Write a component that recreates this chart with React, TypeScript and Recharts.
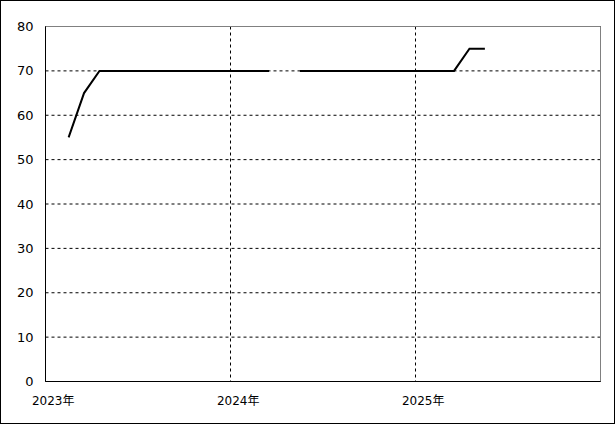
import React from 'react';
import { LineChart, Line, XAxis, YAxis, CartesianGrid, ReferenceLine } from 'recharts';

const months = [
  '2023-02', '2023-03', '2023-04', '2023-05', '2023-06', '2023-07', '2023-08', '2023-09',
  '2023-10', '2023-11', '2023-12', '2024-01', '2024-02', '2024-03', '2024-04', '2024-05',
  '2024-06', '2024-07', '2024-08', '2024-09', '2024-10', '2024-11', '2024-12', '2025-01',
  '2025-02', '2025-03', '2025-04', '2025-05',
];
const values: (number | null)[] = [
  55, 65, 70, 70, 70, 70, 70, 70,
  70, 70, 70, 70, 70, 70, null, 70,
  70, 70, 70, 70, 70, 70, 70, 70,
  70, 70, 75, 75,
];
const yearLabels = ['2023年', '2024年', '2025年'];
const xTicks = [0, 12, 24, 36];
const yTicks = [0, 10, 20, 30, 40, 50, 60, 70, 80];

const data = months.map((m, i) => {
  const [y, mo] = m.split('-').map(Number);
  return { t: (y - 2023) * 12 + (mo - 1) + 0.5, v: values[i] };
});

const CHART_W = 613;
const CHART_H = 422;
const LEFT = 44.5;
const RIGHT = 13.5;
const HALF_MONTH = (CHART_W - LEFT - RIGHT) / 36 / 2;
const FONT = '"DejaVu Sans", "Noto Sans CJK JP", sans-serif';

const XTick = (props: any) => {
  const { x, y, payload } = props;
  const i = xTicks.indexOf(payload.value);
  if (i < 0 || i >= yearLabels.length) return <g />;
  return (
    <text x={x + HALF_MONTH} y={y} dy={23.5} textAnchor="middle" fill="#000" fontSize={12} fontFamily={FONT}>
      {yearLabels[i]}
    </text>
  );
};

export default function App() {
  return (
    <div
      style={{
        position: 'absolute',
        left: 0,
        top: 0,
        width: 615,
        height: 424,
        boxSizing: 'border-box',
        border: '1px solid #000',
        background: '#fff',
      }}
    >
      <LineChart width={CHART_W} height={CHART_H} data={data} margin={{ top: 25.5, right: RIGHT, left: 0, bottom: 0 }}>
        <CartesianGrid stroke="#000" strokeDasharray="3 3" />
        <XAxis
          dataKey="t"
          type="number"
          domain={[0, 36]}
          ticks={xTicks}
          interval={0}
          height={41.5}
          tickSize={0}
          tickMargin={0}
          tickLine={false}
          axisLine={{ stroke: '#000' }}
          tick={<XTick />}
          allowDataOverflow
        />
        <YAxis
          type="number"
          domain={[0, 80]}
          ticks={yTicks}
          interval={0}
          width={LEFT}
          tickSize={0}
          tickMargin={12}
          tickLine={false}
          axisLine={{ stroke: '#000' }}
          tick={{ fill: '#000', fontSize: 13, fontFamily: FONT }}
        />
        <ReferenceLine y={80} stroke="#808080" />
        <ReferenceLine x={36} stroke="#808080" />
        <Line
          type="linear"
          dataKey="v"
          stroke="#000"
          strokeWidth={2}
          dot={false}
          connectNulls={false}
          isAnimationActive={false}
        />
      </LineChart>
    </div>
  );
}
